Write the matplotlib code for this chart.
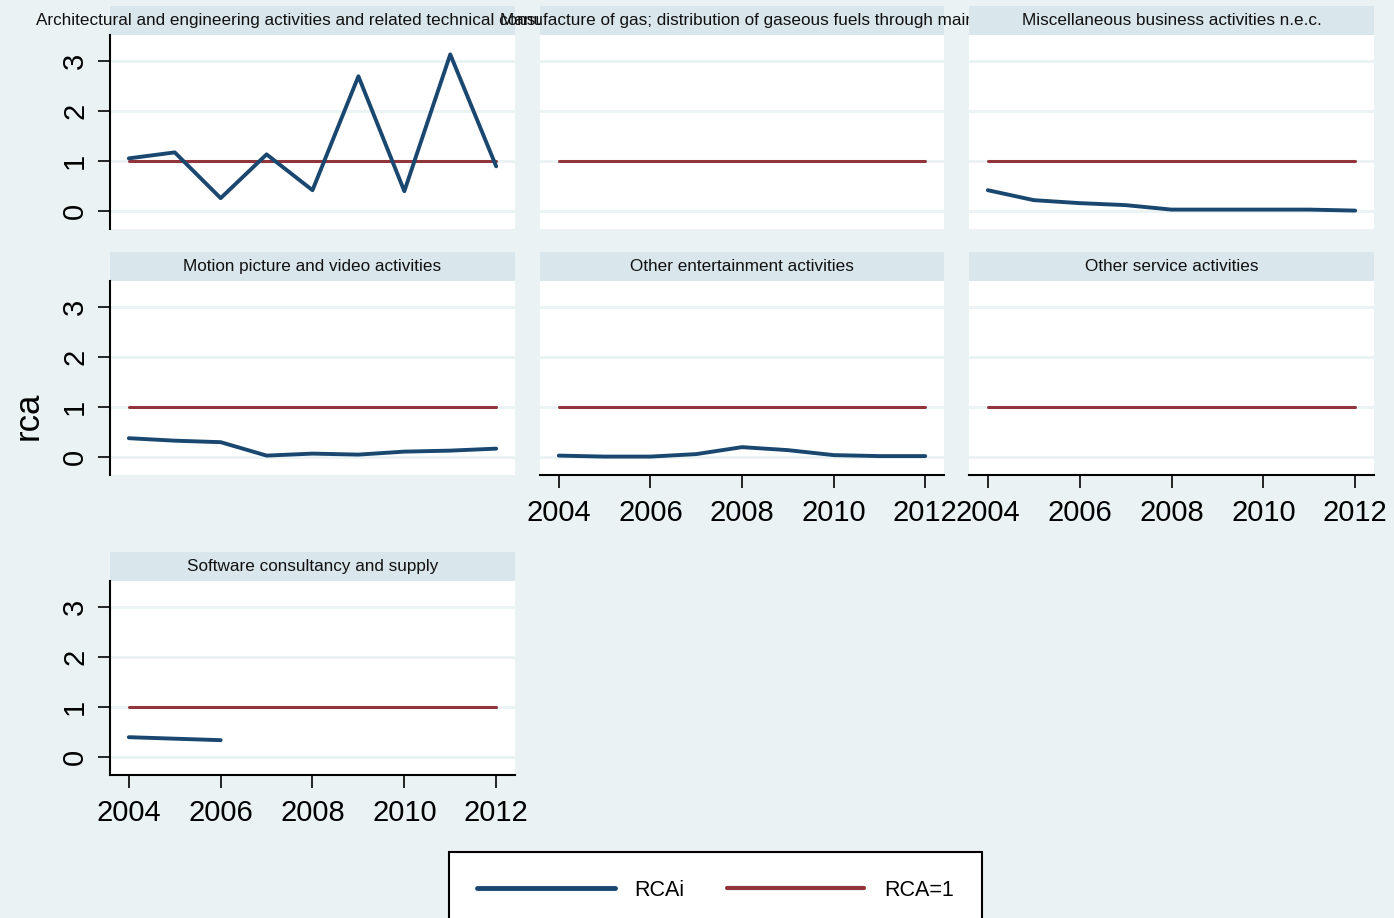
import numpy as np
import matplotlib
matplotlib.use("Agg")
import matplotlib.pyplot as plt
from matplotlib.lines import Line2D
from matplotlib.patches import Rectangle

plt.rcParams['font.family'] = ['Liberation Sans', 'DejaVu Sans']

# Data
years = [2004, 2005, 2006, 2007, 2008, 2009, 2010, 2011, 2012]
titles = [
    "Architectural and engineering activities and related technical consultancy",
    "Manufacture of gas; distribution of gaseous fuels through mains",
    "Miscellaneous business activities n.e.c.",
    "Motion picture and video activities",
    "Other entertainment activities",
    "Other service activities",
    "Software consultancy and supply",
]
nan = np.nan
rca_arch = [1.05, 1.17, 0.25, 1.13, 0.41, 2.70, 0.39, 3.14, 0.89]
rca_gas = [nan] * 9
rca_misc = [0.41, 0.21, 0.15, 0.11, 0.02, 0.02, 0.02, 0.02, 0.00]
rca_motion = [0.37, 0.32, 0.29, 0.02, 0.06, 0.04, 0.10, 0.12, 0.16]
rca_ent = [0.02, 0.00, 0.00, 0.05, 0.19, 0.13, 0.03, 0.01, 0.01]
rca_serv = [nan] * 9
rca_soft = [0.39, 0.36, 0.33, nan, nan, nan, nan, nan, nan]
rca_one = [1] * 9
series = [rca_arch, rca_gas, rca_misc, rca_motion, rca_ent, rca_serv, rca_soft]

BG = '#EAF2F3'
STRIP = '#D9E6EB'
BLUE = '#1A476F'
RED = '#90353B'
W, H = 1394, 918

fig = plt.figure(figsize=(W / 100, H / 100), dpi=100, facecolor=BG)

cols = [(110, 515), (540, 944), (969, 1374)]
rows = [(35, 229), (281, 475), (581, 775)]
strip_h = 29

for i, (title, vals) in enumerate(zip(titles, series)):
    r, c = divmod(i, 3)
    x0, x1 = cols[c]
    y0, y1 = rows[r]
    ax = fig.add_axes([x0 / W, 1 - y1 / H, (x1 - x0) / W, (y1 - y0) / H])
    ax.set_facecolor('white')
    ax.set_xlim(2003.59, 2012.41)
    ax.set_ylim(-0.37, 3.53)
    ax.set_yticks([0, 1, 2, 3])
    ax.set_xticks([2004, 2006, 2008, 2010, 2012])
    ax.grid(axis='y', color=BG, linewidth=2)
    ax.set_axisbelow(True)

    ax.plot(years, rca_one, color=RED, lw=2.2, solid_capstyle='round', zorder=3)
    ax.plot(years, vals, color=BLUE, lw=2.8, solid_capstyle='round', zorder=4)

    # strip with panel title (later strips cover overflowing titles, as in Stata)
    sh = strip_h / (y1 - y0)
    ax.add_patch(Rectangle((0, 1), 1, sh, transform=ax.transAxes, facecolor=STRIP,
                           edgecolor='none', clip_on=False, zorder=1))
    ax.text(0.5, 1 + sh / 2, title, transform=ax.transAxes, ha='center', va='center',
            fontsize=12.3, color='#111111', clip_on=False, zorder=2)

    for s in ['top', 'right']:
        ax.spines[s].set_visible(False)

    show_left = c == 0
    show_bottom = (r == 2) or (r == 1 and c > 0)
    ax.spines['left'].set_visible(show_left)
    ax.spines['bottom'].set_visible(show_bottom)
    ax.spines['left'].set_linewidth(1.5)
    ax.spines['bottom'].set_linewidth(1.5)

    ax.tick_params(axis='y', left=show_left, labelleft=show_left, length=9, width=1.2,
                   labelsize=21, pad=6, labelrotation=90)
    for lab in ax.get_yticklabels():
        lab.set_va('center')
    ax.tick_params(axis='x', bottom=show_bottom, labelbottom=show_bottom, length=9,
                   width=1.2, labelsize=21, pad=8)

fig.text(28 / W, 1 - 416 / H, 'rca', rotation=90, ha='center', va='center', fontsize=25)

handles = [Line2D([], [], color=BLUE, lw=3.5, solid_capstyle='round'),
           Line2D([], [], color=RED, lw=3.0, solid_capstyle='round')]
leg = fig.legend(handles, ['RCAi', 'RCA=1'], loc='upper center',
                 bbox_to_anchor=(715.5 / W, 1 - 852 / H), ncol=2, fontsize=15.5,
                 frameon=True, fancybox=False, framealpha=1, edgecolor='black',
                 handlelength=6.4, handletextpad=0.9, columnspacing=1.95,
                 borderpad=1.3, borderaxespad=0)
leg.get_frame().set_linewidth(1.5)

fig.savefig('out.png', dpi=100, facecolor=BG)
